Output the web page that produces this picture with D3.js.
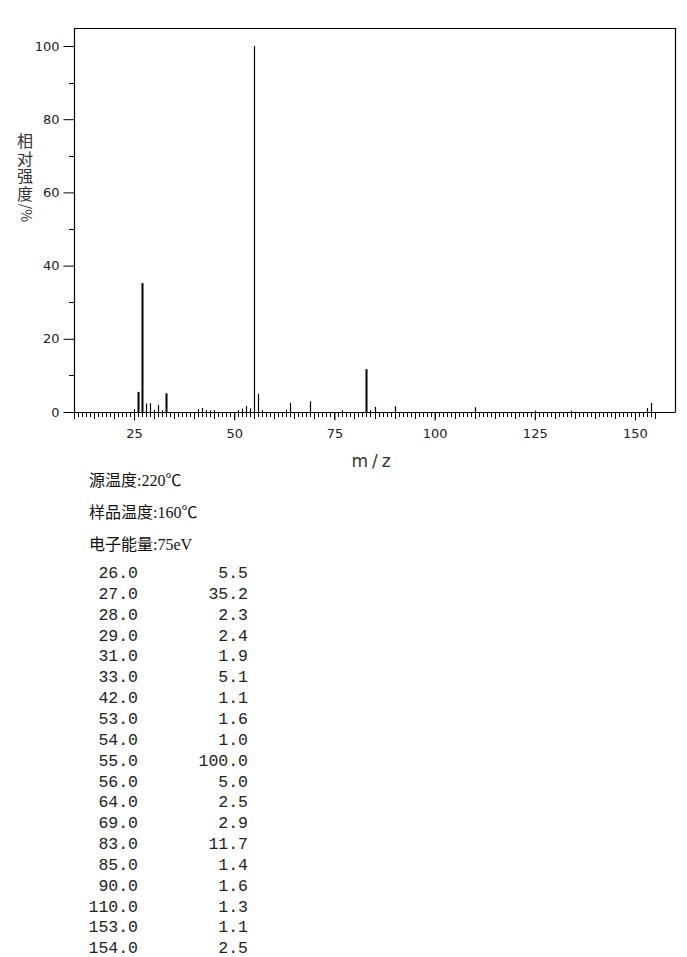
<!DOCTYPE html>
<html><head><meta charset="utf-8">
<script src="https://cdn.jsdelivr.net/npm/d3@7"></script>
<style>body{margin:0;background:#fff}svg{display:block}</style>
</head><body>
<script>
// data
const mzValues = [26,27,28,29,31,33,42,53,54,55,56,64,69,83,85,90,110,153,154];
const intensities = [5.5,35.2,2.3,2.4,1.9,5.1,1.1,1.6,1.0,100.0,5.0,2.5,2.9,11.7,1.4,1.6,1.3,1.1,2.5];
const minorMz = [25,30,32,41,43,44,45,51,52,57,63,77,84,125,134];
const minorIntensity = [0.8,0.6,0.5,0.8,0.6,0.4,0.5,0.5,0.9,0.5,0.6,0.5,0.5,0.4,0.4];
const xTickValues = [25,50,75,100,125,150];
const yTickValues = [0,20,40,60,80,100];
const infoLines = ["源温度:220℃","样品温度:160℃","电子能量:75eV"];
const yLabelText = "相对强度";
const yLabelUnit = "/%";
const xLabel = "m/z";

const W=687,H=957;
const svg=d3.select("body").append("svg").attr("width",W).attr("height",H);
svg.append("rect").attr("width",W).attr("height",H).attr("fill","#fff");

const x=d3.scaleLinear().domain([10,160]).range([74,675]);
const y=d3.scaleLinear().domain([0,100]).range([412,46]);

// frame
svg.append("path").attr("d","M74.5,412V28.5H675.5V412").attr("fill","none").attr("stroke","#000").attr("stroke-width",1.2);

// y axis
const yAxis=d3.axisLeft(y).tickValues(yTickValues).tickSize(11).tickPadding(4);
const gy=svg.append("g").attr("transform","translate(74.5,0)").call(yAxis);
gy.select(".domain").remove();
gy.selectAll("text").attr("font-family","DejaVu Sans").attr("font-size",13).attr("fill","#222");
const yMinor=d3.range(10,100,20);
svg.append("g").selectAll("line").data(yMinor).join("line")
  .attr("x1",69).attr("x2",74.5).attr("y1",d=>Math.round(y(d))+0.5).attr("y2",d=>Math.round(y(d))+0.5).attr("stroke","#000");

// x axis line
svg.append("line").attr("x1",66).attr("x2",675.5).attr("y1",412.5).attr("y2",412.5).attr("stroke","#000").attr("stroke-width",1.2);
// minor integer ticks
const xMinor=d3.range(10,156);
svg.append("g").selectAll("line").data(xMinor).join("line")
  .attr("x1",d=>Math.round(x(d))+0.5).attr("x2",d=>Math.round(x(d))+0.5)
  .attr("y1",412).attr("y2",d=>d%5===0?419:417).attr("stroke","#000").attr("stroke-width",1);
const xAxis=d3.axisBottom(x).tickValues(xTickValues).tickSize(8).tickPadding(8);
const gx=svg.append("g").attr("transform","translate(0,412.5)").call(xAxis);
gx.select(".domain").remove();
gx.selectAll("text").attr("font-family","DejaVu Sans").attr("font-size",13).attr("fill","#222");

// minor peaks
svg.append("g").selectAll("line").data(minorMz.map((m,i)=>[m,minorIntensity[i]])).join("line")
  .attr("x1",d=>Math.round(x(d[0]))+0.5).attr("x2",d=>Math.round(x(d[0]))+0.5)
  .attr("y1",412).attr("y2",d=>y(d[1])).attr("stroke","#000").attr("stroke-width",1);
// peaks
svg.append("g").selectAll("line").data(mzValues.map((m,i)=>[m,intensities[i]])).join("line")
  .attr("x1",d=>Math.round(x(d[0]))+0.5).attr("x2",d=>Math.round(x(d[0]))+0.5)
  .attr("y1",412).attr("y2",d=>y(d[1])).attr("stroke","#000").attr("stroke-width",d=>d[1]>5&&d[1]<50?2:1.2);

// y axis label: vertical CJK text + rotated unit
const yl=svg.append("g").attr("font-family","Noto Sans CJK SC").attr("fill","#333");
yl.append("text").attr("x",25).attr("y",133).attr("writing-mode","tb")
  .attr("font-size",16).attr("letter-spacing",1.5).text(yLabelText);
yl.append("text").attr("transform","translate(21,213) rotate(90)").attr("text-anchor","middle")
  .attr("font-size",14).text(yLabelUnit);

svg.append("text").attr("x",373).attr("y",467).attr("text-anchor","middle")
  .attr("font-family","DejaVu Sans").attr("font-size",17).attr("letter-spacing",4).attr("fill","#333").text(xLabel);

// info lines
svg.append("g").selectAll("text").data(infoLines).join("text")
  .attr("x",89).attr("y",(d,i)=>486+i*32)
  .attr("font-family","Liberation Serif, Noto Sans CJK SC").attr("font-size",16).attr("fill","#111").text(d=>d);

// table
const rows=svg.append("g").attr("font-family","Liberation Mono").attr("font-size",16.5).attr("fill","#222");
rows.selectAll("text.m").data(mzValues).join("text").attr("class","m")
  .attr("x",138).attr("y",(d,i)=>578+i*20.85).attr("text-anchor","end").text(d=>d.toFixed(1));
rows.selectAll("text.v").data(intensities).join("text").attr("class","v")
  .attr("x",248).attr("y",(d,i)=>578+i*20.85).attr("text-anchor","end").text(d=>d.toFixed(1));
</script>
</body></html>
